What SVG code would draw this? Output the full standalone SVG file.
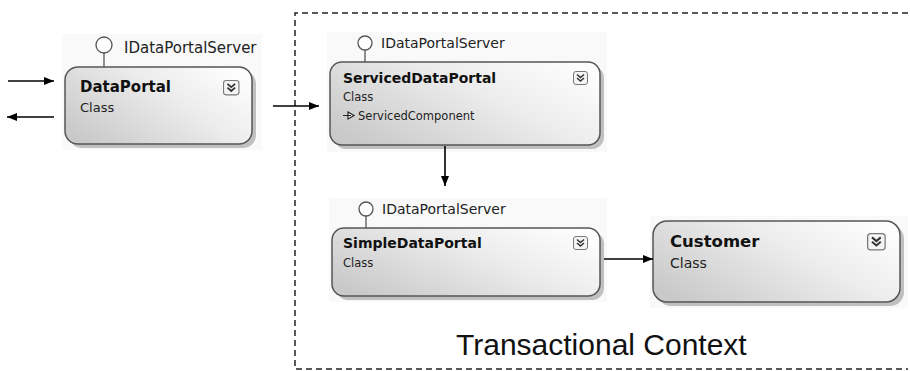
<svg xmlns="http://www.w3.org/2000/svg" width="910" height="371" viewBox="0 0 910 371">
<defs>
<linearGradient id="boxfill" x1="0" y1="0.8" x2="1" y2="0.2">
<stop offset="0" stop-color="#c9c9c9"/>
<stop offset="0.6" stop-color="#ececec"/>
<stop offset="1" stop-color="#fdfdfd"/>
</linearGradient>
<marker id="ah" viewBox="0 0 10 10" refX="10" refY="5" markerWidth="10" markerHeight="10" markerUnits="userSpaceOnUse" orient="auto">
<path d="M0,1 L10,5 L0,9 Z" fill="#000"/>
</marker>
<g id="chev">
<rect x="0.5" y="0.5" width="14" height="13" rx="2.5" fill="#f4f4f4" stroke="#777" stroke-width="1"/>
<path d="M4,3.5 L7.5,6.5 L11,3.5 M4,7 L7.5,10 L11,7" fill="none" stroke="#333" stroke-width="1.6"/>
</g>
</defs>
<style>
.bg{fill:#f9f9f9}
.shadow{fill:#c0c0c0}
.box{fill:url(#boxfill);stroke:#555;stroke-width:1.5}
.lol{fill:#fff;stroke:#555;stroke-width:1.3}
.stem{stroke:#555;stroke-width:1.3}
.name{font-family:"DejaVu Sans",sans-serif;font-weight:bold;fill:#111}
.sub{font-family:"DejaVu Sans",sans-serif;fill:#222}
.iface{font-family:"DejaVu Sans",sans-serif;fill:#222}
.conn{stroke:#000;stroke-width:1.6;fill:none;marker-end:url(#ah)}
.ctx{fill:none;stroke:#222;stroke-width:1.5;stroke-dasharray:6,4}
.title{font-family:"Liberation Sans",Arial,sans-serif;font-size:30px;fill:#111}
</style>
<rect width="910" height="371" fill="#fff"/>

<g id="context">
<path class="ctx" d="M908,13 H295 V369 H908"/>
<text class="title" x="456" y="355">Transactional Context</text>
</g>

<g id="DataPortal">
<rect class="bg" x="62" y="34" width="200" height="116"/>
<rect class="shadow" x="69" y="71" width="187" height="77" rx="13"/>
<rect class="box" x="65" y="67" width="187" height="77" rx="13"/>
<line class="stem" x1="104" y1="53" x2="104" y2="67"/>
<circle class="lol" cx="104" cy="45" r="8"/>
<text class="iface" x="124" y="53" font-size="15">IDataPortalServer</text>
<text class="name" x="80" y="92" font-size="15">DataPortal</text>
<text class="sub" x="80" y="112" font-size="13">Class</text>
<use href="#chev" transform="translate(223,80) scale(1.1)"/>
</g>

<g id="ServicedDataPortal">
<rect class="bg" x="327" y="32" width="280" height="120"/>
<rect class="shadow" x="334" y="66" width="270" height="83" rx="12"/>
<rect class="box" x="330" y="62" width="270" height="83" rx="12"/>
<line class="stem" x1="365" y1="50" x2="365" y2="62"/>
<circle class="lol" cx="365" cy="43" r="7"/>
<text class="iface" x="381" y="48" font-size="14">IDataPortalServer</text>
<text class="name" x="343" y="83" font-size="14">ServicedDataPortal</text>
<text class="sub" x="343" y="101" font-size="11.5">Class</text>
<path d="M343,115.5 H351 M348,112 L354,115.5 L348,119 Z" fill="#fff" stroke="#222" stroke-width="1.2"/>
<text class="sub" x="358" y="120" font-size="11.5">ServicedComponent</text>
<use href="#chev" transform="translate(573,71)"/>
</g>

<g id="SimpleDataPortal">
<rect class="bg" x="329" y="198" width="278" height="104"/>
<rect class="shadow" x="336" y="232" width="268" height="68" rx="12"/>
<rect class="box" x="332" y="228" width="268" height="68" rx="12"/>
<line class="stem" x1="366" y1="216" x2="366" y2="228"/>
<circle class="lol" cx="366" cy="209" r="7"/>
<text class="iface" x="382" y="214" font-size="14">IDataPortalServer</text>
<text class="name" x="343" y="248" font-size="14">SimpleDataPortal</text>
<text class="sub" x="343" y="267" font-size="11.5">Class</text>
<use href="#chev" transform="translate(573,236)"/>
</g>

<g id="Customer">
<rect class="bg" x="650" y="216" width="258" height="92"/>
<rect class="shadow" x="657" y="225" width="247" height="81" rx="14"/>
<rect class="box" x="653" y="221" width="247" height="81" rx="14"/>
<text class="name" x="670" y="247" font-size="16.5">Customer</text>
<text class="sub" x="670" y="268" font-size="14">Class</text>
<use href="#chev" transform="translate(867,233) scale(1.25)"/>
</g>

<g id="connectors">
<line class="conn" x1="8" y1="81" x2="54" y2="81"/>
<line class="conn" x1="54" y1="117" x2="7" y2="117"/>
<line class="conn" x1="273" y1="106" x2="319" y2="106"/>
<line class="conn" x1="445" y1="146" x2="445" y2="186"/>
<line class="conn" x1="604" y1="259" x2="653" y2="259"/>
</g>
</svg>
